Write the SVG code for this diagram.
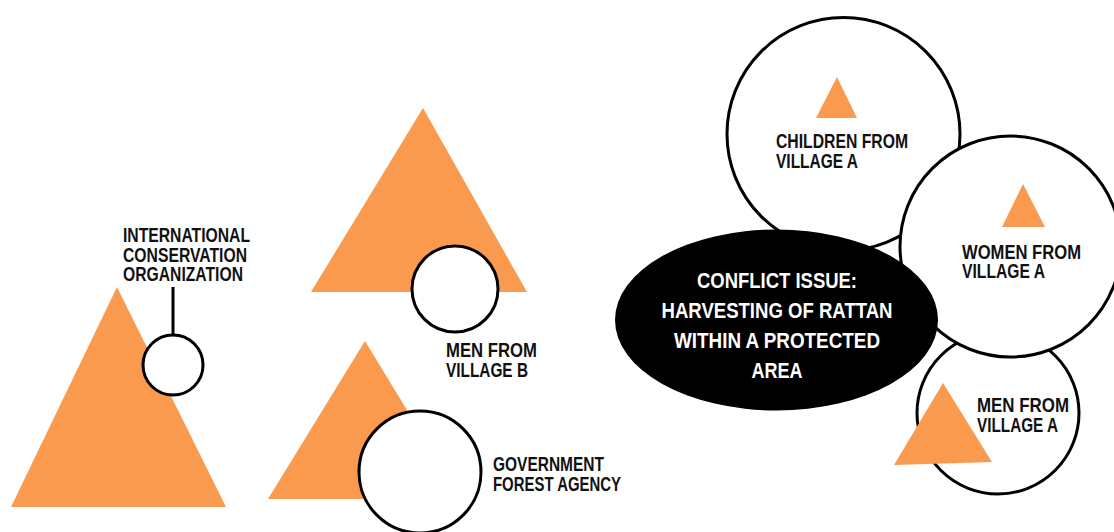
<svg xmlns="http://www.w3.org/2000/svg" width="1114" height="532" viewBox="0 0 1114 532">
<style>
.tri{fill:#F99A4E;}
.ring{fill:#fff;stroke:#000;stroke-width:3;}
.lbl{font-family:"Liberation Sans Narrow","Liberation Sans",Arial,sans-serif;font-weight:bold;font-size:20px;fill:#111;}
.hub{font-family:"Liberation Sans Narrow","Liberation Sans",Arial,sans-serif;font-weight:bold;font-size:22px;fill:#fff;text-anchor:middle;}
</style>
<rect width="1114" height="532" fill="#fff"/>
<g id="connectors">
<line x1="173" y1="287" x2="173" y2="335" stroke="#000" stroke-width="3"/>
</g>
<g id="ico">
<polygon class="tri" points="117,287 11,507 226,507"/>
<circle class="ring" cx="173" cy="365" r="30"/>
<text class="lbl" x="123" y="242" textLength="127" lengthAdjust="spacingAndGlyphs">INTERNATIONAL</text>
<text class="lbl" x="123" y="262" textLength="124" lengthAdjust="spacingAndGlyphs">CONSERVATION</text>
<text class="lbl" x="123" y="281" textLength="120" lengthAdjust="spacingAndGlyphs">ORGANIZATION</text>
</g>
<g id="men-b">
<polygon class="tri" points="423,108 311,292 527,292"/>
<circle class="ring" cx="455" cy="289" r="43"/>
<text class="lbl" x="446" y="357" textLength="91" lengthAdjust="spacingAndGlyphs">MEN FROM</text>
<text class="lbl" x="446" y="377" textLength="82" lengthAdjust="spacingAndGlyphs">VILLAGE B</text>
</g>
<g id="gov">
<polygon class="tri" points="365,341 268,499 461,499"/>
<circle class="ring" cx="420" cy="472" r="61"/>
<text class="lbl" x="493" y="471" textLength="111" lengthAdjust="spacingAndGlyphs">GOVERNMENT</text>
<text class="lbl" x="493" y="491" textLength="128" lengthAdjust="spacingAndGlyphs">FOREST AGENCY</text>
</g>
<g id="children-a">
<circle class="ring" cx="843.5" cy="134" r="116.5"/>
<polygon class="tri" points="837,77 816,118 857,118"/>
<text class="lbl" x="776" y="148" textLength="132" lengthAdjust="spacingAndGlyphs">CHILDREN FROM</text>
<text class="lbl" x="776" y="168" textLength="82" lengthAdjust="spacingAndGlyphs">VILLAGE A</text>
</g>
<g id="men-a">
<circle class="ring" cx="998" cy="413" r="81"/>
<polygon class="tri" points="943,383 894,465 992,462"/>
<text class="lbl" x="977" y="412" textLength="92" lengthAdjust="spacingAndGlyphs">MEN FROM</text>
<text class="lbl" x="977" y="432" textLength="81" lengthAdjust="spacingAndGlyphs">VILLAGE A</text>
</g>
<g id="women-a">
<circle class="ring" cx="1010.5" cy="246.5" r="110.5"/>
<polygon class="tri" points="1023,184 1002,227 1045,227"/>
<text class="lbl" x="962" y="259" textLength="119" lengthAdjust="spacingAndGlyphs">WOMEN FROM</text>
<text class="lbl" x="962" y="278" textLength="83" lengthAdjust="spacingAndGlyphs">VILLAGE A</text>
</g>
<g id="conflict">
<ellipse cx="776.5" cy="320" rx="161.5" ry="90.5" fill="#000"/>
<text class="hub" x="777" y="288" textLength="160" lengthAdjust="spacingAndGlyphs">CONFLICT ISSUE:</text>
<text class="hub" x="777" y="318" textLength="231" lengthAdjust="spacingAndGlyphs">HARVESTING OF RATTAN</text>
<text class="hub" x="777" y="348" textLength="206" lengthAdjust="spacingAndGlyphs">WITHIN A PROTECTED</text>
<text class="hub" x="777" y="378" textLength="51" lengthAdjust="spacingAndGlyphs">AREA</text>
</g>
</svg>
